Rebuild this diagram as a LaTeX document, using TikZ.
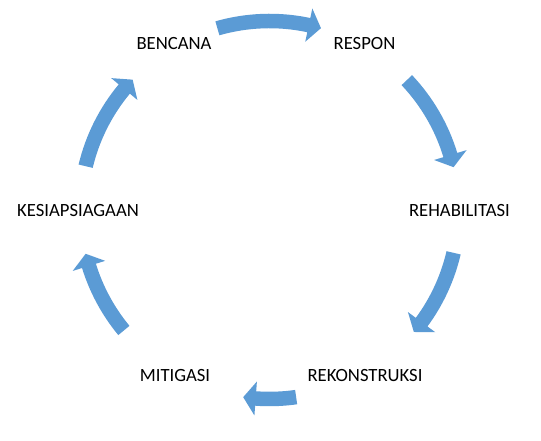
\documentclass[tikz,border=0pt]{standalone}
\usepackage{fontspec}
\setmainfont{Carlito}
\definecolor{arrowblue}{HTML}{5B9BD5}
\newcommand\cyclearrow[2]{% #1 tail angle, #2 tip angle (clockwise)
  \pgfmathsetmacro\headbase{#2+3.8}
  \fill[arrowblue] (#1:196.25pt) arc[start angle=#1, end angle=\headbase, radius=196.25pt]
    -- (\headbase:206pt) -- (#2:189pt) -- (\headbase:172pt) -- (\headbase:181.75pt)
    arc[start angle=\headbase, end angle=#1, radius=181.75pt] -- cycle;
}
\tikzset{lbl/.style={inner sep=0pt, text=black, font=\fontsize{18.67}{22}\selectfont}}
\begin{document}
\begin{tikzpicture}[x=1pt,y=1pt]
\fill[white] (0,0) rectangle (541,441);
\useasboundingbox (0,0) rectangle (541,441);
\node[lbl] (bencana) at (174,397) {BENCANA};
\node[lbl] (respon) at (364.5,397) {RESPON};
\node[lbl] (rehab) at (459.5,230.5) {REHABILITASI};
\node[lbl] (rekon) at (365,65.5) {REKONSTRUKSI};
\node[lbl] (mitigasi) at (175,65.5) {MITIGASI};
\node[lbl] (kesiap) at (78,230) {KESIAPSIAGAAN};
\begin{scope}[shift={(269.5,231)}]
  \cyclearrow{106}{74.2}
  \cyclearrow{43.4}{13.1}
  \cyclearrow{-13.1}{-40.2}
  \cyclearrow{-81.9}{-98}
  \cyclearrow{-140.4}{-166.6}
  \cyclearrow{166.6}{136.4}
\end{scope}
\end{tikzpicture}
\end{document}
